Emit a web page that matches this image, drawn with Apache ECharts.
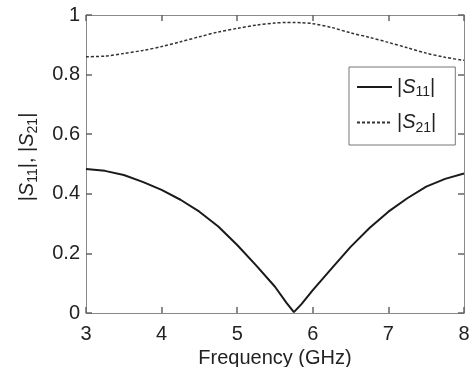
<!DOCTYPE html>
<html><head><meta charset="utf-8">
<script src="https://cdn.jsdelivr.net/npm/echarts@6/dist/echarts.min.js"></script>
<style>html,body{margin:0;padding:0;background:#fff}#c{width:469px;height:367px}</style>
</head><body><div id="c"></div>
<script>
const freq = [3.0,3.25,3.5,3.75,4.0,4.25,4.5,4.75,5.0,5.25,5.5,5.65,5.75,5.85,6.0,6.25,6.5,6.75,7.0,7.25,7.5,7.75,8.0];
const s11 = [0.483,0.477,0.463,0.44,0.413,0.38,0.34,0.29,0.228,0.16,0.088,0.035,0.003,0.03,0.077,0.15,0.222,0.285,0.34,0.385,0.424,0.45,0.468];
const s21 = [0.86,0.862,0.871,0.881,0.894,0.91,0.927,0.943,0.955,0.966,0.973,0.975,0.975,0.974,0.971,0.958,0.94,0.925,0.908,0.89,0.872,0.858,0.848];
const xTicks = [3,4,5,6,7,8];
const yTicks = [0,0.2,0.4,0.6,0.8,1];

const font = 'Liberation Sans, Arial, sans-serif';
const axisCol = '#8a8a8a';
const txt = '#222';
const chart = echarts.init(document.getElementById('c'));
const mkRich = () => ({
  n:{fontSize:20,fontFamily:font,color:txt},
  i:{fontSize:20,fontFamily:font,fontStyle:'italic',color:txt},
  sub:{fontSize:14,fontFamily:font,color:txt,padding:[11,0,0,0]}
});
const mkTick = () => ({show:true,inside:true,length:6,lineStyle:{color:'#666',width:1.5}});
const mkLine = () => ({show:true,onZero:false,lineStyle:{color:axisCol,width:1}});
chart.setOption({
  animation:false,
  backgroundColor:'#fff',
  grid:{left:86,right:5,top:15,bottom:54,containLabel:false,outerBoundsMode:'none'},
  legend:{
    left:349, top:67, orient:'vertical',
    padding:[10,19,10,7], itemGap:13,
    borderColor:'#777', borderWidth:1, backgroundColor:'#fff',
    itemWidth:35, itemHeight:14,
    itemStyle:{opacity:0},
    data:['S11','S21'],
    formatter:function(n){ return '{n||}{i|S}{sub|'+n.slice(1)+'}{n||}'; },
    textStyle:{rich:mkRich()}
  },
  xAxis:[
    {type:'value',min:3,max:8,interval:1,position:'bottom',
      axisLine:mkLine(),axisTick:mkTick(),splitLine:{show:false},
      axisLabel:{show:true,fontSize:20,fontFamily:font,color:txt,margin:11,
        formatter:v=>xTicks.includes(v)?String(v):''},
      name:'Frequency (GHz)',nameLocation:'middle',nameGap:28,
      nameTextStyle:{fontSize:20,fontFamily:font,color:txt}},
    {type:'value',min:3,max:8,interval:1,position:'top',
      axisLine:mkLine(),axisTick:mkTick(),splitLine:{show:false},axisLabel:{show:false}}
  ],
  yAxis:[
    {type:'value',min:0,max:1,interval:0.2,position:'left',
      axisLine:mkLine(),axisTick:mkTick(),splitLine:{show:false},
      axisLabel:{show:true,fontSize:20,fontFamily:font,color:txt,margin:6,
        formatter:v=>{const t=yTicks.find(a=>Math.abs(a-v)<1e-9);return t===undefined?'':String(t);}},
      name:'{n||}{i|S}{sub|11}{n||, |}{i|S}{sub|21}{n||}',nameLocation:'middle',nameGap:46,
      nameTextStyle:{rich:mkRich(),padding:[0,0,0,14]}},
    {type:'value',min:0,max:1,interval:0.2,position:'right',
      axisLine:mkLine(),axisTick:mkTick(),splitLine:{show:false},axisLabel:{show:false}}
  ],
  series:[
    {name:'S11',type:'line',showSymbol:false,symbol:'none',
     data:freq.map((f,i)=>[f,s11[i]]),
     lineStyle:{color:'#1a1a1a',width:2},itemStyle:{color:'#1a1a1a'}},
    {name:'S21',type:'line',showSymbol:false,symbol:'none',smooth:0.3,
     data:freq.map((f,i)=>[f,s21[i]]),
     lineStyle:{color:'#333',width:1.5,type:[3,2]},itemStyle:{color:'#333'}}
  ]
});
</script></body></html>
